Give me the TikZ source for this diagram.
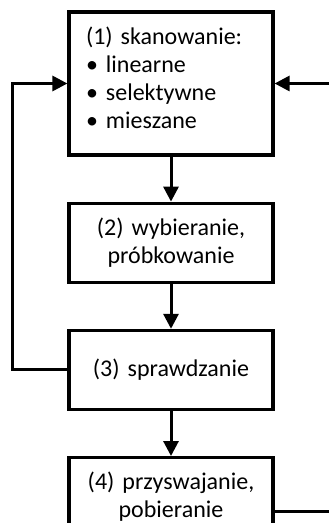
\documentclass[tikz,border=0pt]{standalone}
\usepackage{fontspec}
\setmainfont{Carlito}
\usetikzlibrary{arrows.meta, positioning}

\begin{document}
\begin{tikzpicture}[
  node distance=22.5pt,
  stage/.style={rectangle, draw, line width=1.6pt, minimum width=102pt, minimum height=39.5pt, inner xsep=8.5pt, text width=85pt, align=center, font=\fontsize{12}{14}\selectfont},
  ->, >={Triangle[length=7.5pt, width=7.5pt]}, line width=1.5pt
]
\useasboundingbox (0,0) rectangle (164pt,-261.5pt);
\node[stage, align=left, minimum height=71.5pt, text depth=48pt] (scan) at (85.5pt,-41.75pt) {(1) skanowanie:\\ \textbullet\ linearne\\ \textbullet\ selektywne\\ \textbullet\ mieszane};
\node[stage, below=of scan] (pick) {(2) wybieranie,\\ próbkowanie};
\node[stage, below=of pick] (check) {(3) sprawdzanie};
\node[stage, below=of check] (take) {(4) przyswajanie,\\ pobieranie};
\coordinate (loopL) at (6pt,0);
\coordinate (loopR) at (172pt,0);

\draw (scan) -- (pick);
\draw (pick) -- (check);
\draw (check) -- (take);
\draw (check.west) -| (loopL |- scan.west) -- (scan.west);
\draw ([yshift=-7.25pt]take.east) -| (loopR |- scan.east) -- (scan.east);
\end{tikzpicture}
\end{document}
